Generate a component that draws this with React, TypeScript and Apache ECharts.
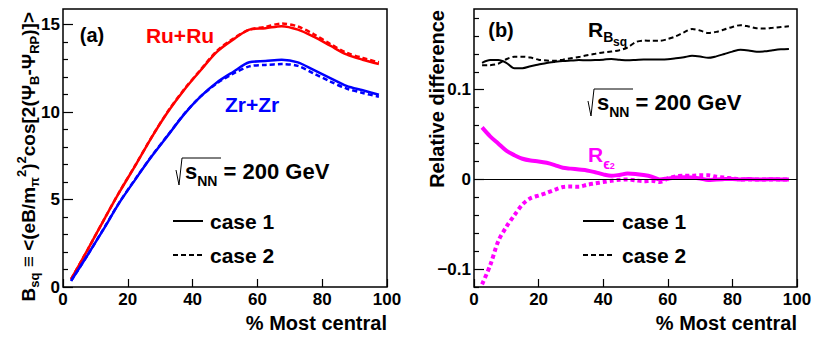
import { useEffect, useRef } from 'react';
import * as echarts from 'echarts';

const F = '"Liberation Sans", Arial, Helvetica, sans-serif';

// ---- Panel (a): B_sq vs centrality ----
const centrality = [2.5, 7.5, 12.5, 17.5, 22.5, 27.5, 32.5, 37.5, 42.5, 47.5, 52.5, 57.5, 62.5, 67.5, 72.5, 77.5, 82.5, 87.5, 92.5, 97.5];
const ruCase1 = [0.45, 2.1, 3.8, 5.45, 7.0, 8.6, 10.05, 11.3, 12.4, 13.45, 14.15, 14.72, 14.8, 14.92, 14.72, 14.3, 13.8, 13.3, 13.0, 12.75];
const ruCase2 = [0.45, 2.1, 3.8, 5.47, 7.02, 8.62, 10.08, 11.33, 12.43, 13.5, 14.2, 14.72, 14.88, 15.07, 14.9, 14.45, 13.9, 13.4, 13.1, 12.85];
const zrCase1 = [0.35, 1.8, 3.3, 4.85, 6.2, 7.5, 8.7, 9.9, 10.9, 11.7, 12.3, 12.85, 12.92, 13.0, 12.85, 12.4, 11.95, 11.5, 11.25, 11.0];
const zrCase2 = [0.35, 1.8, 3.32, 4.87, 6.22, 7.52, 8.72, 9.92, 10.9, 11.65, 12.2, 12.62, 12.7, 12.75, 12.65, 12.2, 11.75, 11.35, 11.1, 10.88];

// ---- Panel (b): relative differences ----
const centralityFine = [2.5, 5, 7.5, 10, 12.5, 15, 17.5, 20, 22.5, 25, 27.5, 30, 32.5, 35, 37.5, 40, 42.5, 45, 47.5, 50, 52.5, 55, 57.5, 60, 62.5, 65, 67.5, 70, 72.5, 75, 77.5, 80, 82.5, 85, 87.5, 90, 92.5, 95, 97.5];
const rBsqCase1 = [0.130, 0.133, 0.133, 0.130, 0.124, 0.124, 0.1262, 0.128, 0.1298, 0.131, 0.132, 0.1325, 0.133, 0.1328, 0.133, 0.1335, 0.1343, 0.1335, 0.1328, 0.1332, 0.1337, 0.1338, 0.1338, 0.134, 0.135, 0.1362, 0.1378, 0.137, 0.1355, 0.1372, 0.1398, 0.1425, 0.1445, 0.1438, 0.1422, 0.1428, 0.144, 0.145, 0.1455];
const rBsqCase2 = [0.1272, 0.1274, 0.129, 0.134, 0.1368, 0.1368, 0.1358, 0.1335, 0.1325, 0.1322, 0.1335, 0.135, 0.1365, 0.1385, 0.14, 0.1415, 0.1425, 0.144, 0.147, 0.153, 0.1548, 0.1545, 0.1545, 0.1565, 0.1596, 0.164, 0.1677, 0.166, 0.1632, 0.1645, 0.1672, 0.17, 0.172, 0.1705, 0.1685, 0.1682, 0.169, 0.17, 0.1707];
const rEps2Case1 = [0.058, 0.048, 0.04, 0.032, 0.027, 0.023, 0.021, 0.02, 0.0185, 0.016, 0.013, 0.012, 0.011, 0.01, 0.008, 0.0056, 0.004, 0.005, 0.0065, 0.006, 0.0048, 0.003, 0.0, 0.001, 0.002, 0.0025, 0.002, 0.001, -0.0007, 0, 0.0003, 0.0005, 0, 0.0003, 0, 0, 0.0002, 0, 0];
const rEps2Case2 = [-0.117, -0.096, -0.069, -0.053, -0.04, -0.028, -0.021, -0.018, -0.015, -0.0115, -0.0085, -0.008, -0.0082, -0.006, -0.0045, -0.003, -0.0015, -0.0005, 0, -0.001, -0.002, -0.0015, -0.003, 0.001, 0.0035, 0.004, 0.004, 0.0045, 0.0045, 0.003, 0.002, 0.001, 0, 0, 0, 0, 0, 0, 0];

// ---- Tick values ----
const xTicks = [0, 20, 40, 60, 80, 100];
const bsqMajor = [0, 5, 10, 15];
const bsqLabels = [5, 10, 15];
const bsqMinor = [1, 2, 3, 4, 6, 7, 8, 9, 11, 12, 13, 14];
const relMajor = [-0.1, 0, 0.1];
const relMinor = [-0.12, -0.08, -0.06, -0.04, -0.02, 0.02, 0.04, 0.06, 0.08, 0.12, 0.14, 0.16, 0.18];

const pairs = (xs: number[], ys: number[]) => xs.map((x, i) => [x, ys[i]]);

const tickLabel = { fontSize: 17, fontWeight: 'bold', fontFamily: F, color: '#000' };

function xAxisFor(grid: number) {
  return {
    type: 'value', gridIndex: grid, min: 0, max: 100, interval: 20,
    axisLine: { show: false, onZero: false },
    splitLine: { show: false },
    axisTick: { show: true, inside: true, length: 8, customValues: xTicks, lineStyle: { color: '#000', width: 1.2 } },
    axisLabel: { ...tickLabel, margin: 4, customValues: xTicks, verticalAlign: 'top', showMinLabel: true, showMaxLabel: true, hideOverlap: false },
  };
}

function yAxisFor(grid: number, min: number, max: number, major: number[], labels: number[], minor: number[], fmt: (v: number) => string) {
  return [
    {
      type: 'value', gridIndex: grid, min, max, position: 'left', offset: 0,
      axisLine: { show: false, onZero: false },
      splitLine: { show: false },
      axisTick: { show: true, inside: true, length: 10, customValues: major, lineStyle: { color: '#000', width: 1.2 } },
      axisLabel: { ...tickLabel, margin: 3, customValues: labels, formatter: fmt, showMinLabel: true, showMaxLabel: true, hideOverlap: false },
    },
    {
      type: 'value', gridIndex: grid, min, max, position: 'left', offset: 0,
      axisLine: { show: false, onZero: false },
      splitLine: { show: false },
      axisTick: { show: true, inside: true, length: 5, customValues: minor, lineStyle: { color: '#000', width: 1.2 } },
      axisLabel: { show: false },
    },
  ];
}

const txt = (x: number, y: number, text: string, size: number, color: string, align = 'left', extra: any = {}) => ({
  type: 'text', x, y, silent: true,
  style: { text, fontSize: size, fontWeight: 'bold', fontFamily: F, fill: color, align, verticalAlign: 'middle', ...extra },
});

// rich text helpers: a line of height L; sub/sup glyph boxes sit at its bottom/top
const base = (size: number, color: string, L: number) => ({ fontSize: size, fontWeight: 'bold', fontFamily: F, fill: color, lineHeight: L });
const sub = (size: number, color: string) => ({ fontSize: size, fontWeight: 'bold', fontFamily: F, fill: color, lineHeight: size, verticalAlign: 'bottom' });
const sup = (size: number, color: string) => ({ fontSize: size, fontWeight: 'bold', fontFamily: F, fill: color, lineHeight: size, verticalAlign: 'top' });

function sqrtLabel(x: number, y: number) {
  return [
    {
      type: 'polyline', silent: true,
      shape: { points: [[x - 9, y - 1], [x - 6, y + 14], [x - 3, y - 13], [x + 36, y - 13]] },
      style: { stroke: '#000', lineWidth: 1, fill: 'none' },
    },
    {
      type: 'text', x, y, silent: true,
      style: {
        text: '{s|s}{n|NN}{m| = 200 GeV}', align: 'left', verticalAlign: 'middle',
        rich: { s: base(22, '#000', 34), n: sub(14, '#000'), m: base(22, '#000', 34) },
      },
    },
  ];
}

function legend(x0: number, x1: number, tx: number) {
  return [
    { type: 'line', silent: true, shape: { x1: x0, y1: 221, x2: x1, y2: 221 }, style: { stroke: '#000', lineWidth: 2 } },
    { type: 'line', silent: true, shape: { x1: x0, y1: 255, x2: x1, y2: 255 }, style: { stroke: '#000', lineWidth: 2, lineDash: [5, 3] } },
    txt(tx, 221, 'case 1', 21, '#000'),
    txt(tx, 255, 'case 2', 21, '#000'),
  ];
}

export default function App() {
  const ref = useRef<HTMLDivElement>(null);
  useEffect(() => {
    if (!ref.current) return;
    const chart = echarts.init(ref.current, null, { renderer: 'svg' });
    const lineS = (name: string, data: number[][], color: string, width: number, type: any, xi: number, yi: number, extra: any = {}) => ({
      name, type: 'line', data, xAxisIndex: xi, yAxisIndex: yi, symbol: 'none', smooth: 0.3,
      lineStyle: { color, width, type }, silent: true, ...extra,
    });
    chart.setOption({
      animation: false,
      backgroundColor: '#fff',
      grid: [
        { left: 63, right: 435, top: 9, bottom: 54, show: true, borderColor: '#000', borderWidth: 1.5, backgroundColor: 'transparent' },
        { left: 474, right: 25, top: 9, bottom: 54, show: true, borderColor: '#000', borderWidth: 1.5, backgroundColor: 'transparent' },
      ],
      xAxis: [xAxisFor(0), xAxisFor(1)],
      yAxis: [
        ...yAxisFor(0, 0, 15.9, bsqMajor, bsqLabels, bsqMinor, (v: number) => String(v)),
        ...yAxisFor(1, -0.12, 0.19, relMajor, relMajor, relMinor, (v: number) => (v < 0 ? '\u2212' + String(-v) : String(v))),
      ],
      series: [
        lineS('Ru+Ru case 1', pairs(centrality, ruCase1), '#ff0000', 2.5, 'solid', 0, 0),
        lineS('Ru+Ru case 2', pairs(centrality, ruCase2), '#ff0000', 2.5, [5, 3], 0, 0),
        lineS('Zr+Zr case 1', pairs(centrality, zrCase1), '#0000ff', 2.5, 'solid', 0, 0),
        lineS('Zr+Zr case 2', pairs(centrality, zrCase2), '#0000ff', 2.5, [5, 3], 0, 0),
        lineS('R_Bsq case 1', pairs(centralityFine, rBsqCase1), '#000', 2, 'solid', 1, 2, {
          markLine: {
            silent: true, symbol: ['none', 'none'], label: { show: false },
            lineStyle: { color: '#000', width: 1, type: 'solid' },
            data: [{ yAxis: 0 }],
          },
        }),
        lineS('R_Bsq case 2', pairs(centralityFine, rBsqCase2), '#000', 2, [5, 3], 1, 2),
        lineS('R_eps2 case 1', pairs(centralityFine, rEps2Case1), '#ff00ff', 4, 'solid', 1, 2),
        lineS('R_eps2 case 2', pairs(centralityFine, rEps2Case2), '#ff00ff', 4, [4, 3], 1, 2),
      ],
      graphic: [
        // y "0" tick label of panel (a)
        txt(60, 287, '0', 17, '#000', 'right'),
        // axis titles
        txt(387, 323, '% Most central', 20, '#000', 'right'),
        txt(797, 323, '% Most central', 20, '#000', 'right'),
        {
          type: 'text', x: 28, y: 12, rotation: Math.PI / 2, silent: true,
          style: {
            text: '{b|B}{s|sq}{b| \u2261 <(eB/m}{s|\u03c0}{p|2}{b|)}{p|2}{b|cos[2(\u03a8}{s|B}{b|-\u03a8}{s|RP}{b|)]>}',
            align: 'right', verticalAlign: 'middle',
            rich: { b: base(19, '#000', 26), s: sub(13, '#000'), p: sup(13, '#000') },
          },
        },
        {
          type: 'text', x: 437, y: 10, rotation: Math.PI / 2, silent: true,
          style: { text: 'Relative difference', fontSize: 20, fontWeight: 'bold', fontFamily: F, fill: '#000', align: 'right', verticalAlign: 'middle' },
        },
        // panel (a)
        txt(92, 35, '(a)', 20, '#000', 'center'),
        txt(180, 35, 'Ru+Ru', 21, '#ff0000', 'center'),
        txt(252, 104, 'Zr+Zr', 21, '#0000ff', 'center'),
        ...sqrtLabel(185, 171),
        ...legend(173, 203, 210),
        // panel (b)
        txt(501, 30, '(b)', 20, '#000', 'center'),
        {
          type: 'text', x: 588, y: 29, silent: true,
          style: {
            text: '{r|R}{b|B}', align: 'left', verticalAlign: 'middle',
            rich: { r: base(21, '#000', 30), b: sub(14, '#000') },
          },
        },
        txt(613, 42, 'sq', 12, '#000', 'left'),
        ...sqrtLabel(597, 102),
        {
          type: 'text', x: 588, y: 154, silent: true,
          style: {
            text: '{r|R}{e|\u03f5}{t|2}', align: 'left', verticalAlign: 'middle',
            rich: { r: base(21, '#ff00ff', 33), e: sub(14, '#ff00ff'), t: sub(9, '#ff00ff') },
          },
        },
        ...legend(583, 614, 622),
      ],
    });
    return () => chart.dispose();
  }, []);
  return <div ref={ref} style={{ position: 'absolute', left: 0, top: 0, width: 822, height: 341 }} />;
}
